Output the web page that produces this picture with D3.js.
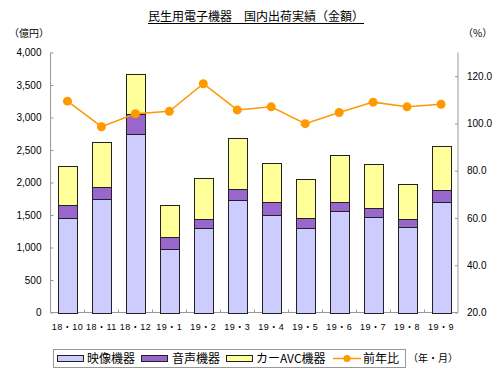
<!DOCTYPE html>
<html>
<head>
<meta charset="utf-8">
<script src="https://cdn.jsdelivr.net/npm/d3@7"></script>
<style>
  html, body { margin: 0; padding: 0; background: #fff; }
  svg text { font-family: "Liberation Sans", "Noto Sans CJK JP", sans-serif; fill: #000; }
  .jp { font-family: "Noto Sans CJK JP", sans-serif; }
</style>
</head>
<body>
<div id="chart"></div>
<script>
'use strict';

// data
var months = ["18・10", "18・11", "18・12", "19・1", "19・2", "19・3",
              "19・4", "19・5", "19・6", "19・7", "19・8", "19・9"];
var video = [1450, 1745, 2750, 970, 1300, 1725, 1500, 1305, 1565, 1465, 1320, 1700];
var audio = [200, 185, 305, 185, 140, 175, 200, 145, 135, 145, 115, 185];
var carAvc = [610, 695, 610, 500, 635, 780, 595, 610, 730, 675, 540, 670];
var yoy = [109.4, 98.6, 104.1, 105.1, 116.8, 105.7, 107.0, 99.9, 104.6, 109.0, 107.0, 108.1];
var leftTicks = [0, 500, 1000, 1500, 2000, 2500, 3000, 3500, 4000];
var rightTicks = [20, 40, 60, 80, 100, 120];

var seriesNames = ["映像機器", "音声機器", "カーAVC機器"];
var seriesColors = ["#ccccff", "#9966cc", "#ffff99"];
var lineName = "前年比";
var lineColor = "#ff9900";

var W = 503, H = 371;
var m = {left: 50.5, right: 45, top: 52.5, bottom: 58.5};

var svg = d3.select("#chart").append("svg")
  .attr("width", W).attr("height", H);

var x = d3.scaleBand().domain(months)
  .range([m.left, W - m.right]).paddingInner(0.44).paddingOuter(0.22);
var y = d3.scaleLinear().domain([0, 4000]).range([H - m.bottom, m.top]);
var y2 = d3.scaleLinear().domain([20, 130]).range([H - m.bottom, m.top]);

var rows = months.map(function(mo, i) {
  return {month: mo, v: video[i], a: audio[i], c: carAvc[i]};
});
var stack = d3.stack().keys(["v", "a", "c"])(rows);

// title
var title = svg.append("text").attr("class", "jp")
  .attr("x", 256).attr("y", 21)
  .attr("text-anchor", "middle")
  .style("font-size", "12px")
  .text("民生用電子機器　国内出荷実績（金額）");
var tb = title.node().getBBox();
svg.append("line")
  .attr("x1", tb.x).attr("x2", tb.x + tb.width)
  .attr("y1", 23.5).attr("y2", 23.5)
  .attr("stroke", "#000").attr("stroke-width", 1);

svg.append("text").attr("class", "jp")
  .attr("x", 9).attr("y", 37).style("font-size", "10px").text("（億円）");
svg.append("text").attr("class", "jp")
  .attr("x", 463).attr("y", 37).style("font-size", "10px").text("（%）");

// axes
var gridColor = "#999";
var fmt = d3.format(",");

var axL = svg.append("g").attr("transform", "translate(" + m.left + ",0)")
  .call(d3.axisLeft(y).tickValues(leftTicks).tickSize(-3).tickPadding(9).tickFormat(fmt));
var axR = svg.append("g").attr("transform", "translate(" + (W - m.right) + ",0)")
  .call(d3.axisRight(y2).tickValues(rightTicks).tickSize(-3).tickPadding(9).tickFormat(d3.format(".1f")));
[axL, axR].forEach(function(g) {
  g.select(".domain").attr("stroke", gridColor).attr("d", null);
  g.selectAll(".tick line").attr("stroke", gridColor);
  g.selectAll(".tick text").style("font-size", "10px").attr("fill", "#000");
});
axL.append("line").attr("x1", 0).attr("x2", 0)
  .attr("y1", y(4000)).attr("y2", y(0)).attr("stroke", gridColor);
axR.append("line").attr("x1", 0).attr("x2", 0)
  .attr("y1", y2(130)).attr("y2", y2(20)).attr("stroke", gridColor);
axR.selectAll(".tick text").attr("x", 9).style("text-anchor", "start");

// bottom axis
var bottom = svg.append("g");
bottom.append("line")
  .attr("x1", m.left).attr("x2", W - m.right)
  .attr("y1", y(0)).attr("y2", y(0)).attr("stroke", gridColor);
var step = x.step();
bottom.selectAll("line.tk").data(months.slice(1)).join("line").attr("class", "tk")
  .attr("x1", function(d) { return Math.round(x(d) - step * 0.22) + 0.5; })
  .attr("x2", function(d) { return Math.round(x(d) - step * 0.22) + 0.5; })
  .attr("y1", y(0)).attr("y2", y(0) - 3).attr("stroke", gridColor);
bottom.selectAll("text").data(months).join("text")
  .attr("x", function(d) { return x(d) + x.bandwidth() / 2; })
  .attr("y", y(0) + 17)
  .attr("text-anchor", "middle")
  .style("font-size", "9px")
  .style("letter-spacing", "0.5px")
  .text(function(d) { return d; });

// bars
svg.append("g").selectAll("g").data(stack).join("g")
  .attr("fill", function(d, i) { return seriesColors[i]; })
  .selectAll("rect").data(function(d) { return d; }).join("rect")
  .attr("x", function(d) { return Math.round(x(d.data.month)) + 0.5; })
  .attr("width", Math.round(x.bandwidth()))
  .attr("y", function(d) { return Math.round(y(d[1])) + 0.5; })
  .attr("height", function(d) { return Math.round(y(d[0])) - Math.round(y(d[1])); })
  .attr("stroke", "#222").attr("stroke-width", 1);

// year-on-year line
var line = d3.line()
  .x(function(d, i) { return x(months[i]) + x.bandwidth() / 2; })
  .y(function(d) { return y2(d); });
svg.append("path").datum(yoy)
  .attr("d", line).attr("fill", "none")
  .attr("stroke", lineColor).attr("stroke-width", 1.5);
svg.append("g").selectAll("circle").data(yoy).join("circle")
  .attr("cx", function(d, i) { return x(months[i]) + x.bandwidth() / 2; })
  .attr("cy", function(d) { return y2(d); })
  .attr("r", 4.5).attr("fill", lineColor);

// legend
var lg = svg.append("g");
lg.append("rect").attr("x", 53.5).attr("y", 349.5).attr("width", 352).attr("height", 18)
  .attr("fill", "#fff").attr("stroke", gridColor);
var swX = [57.5, 141.5, 226.5];
var txX = [87, 172, 256];
seriesNames.forEach(function(n, i) {
  lg.append("rect").attr("x", swX[i]).attr("y", 355.5).attr("width", 26).attr("height", 6)
    .attr("fill", seriesColors[i]).attr("stroke", "#222");
  lg.append("text").attr("class", "jp").attr("x", txX[i]).attr("y", 363)
    .style("font-size", "12px").text(n);
});
lg.append("line").attr("x1", 333).attr("x2", 361).attr("y1", 358.5).attr("y2", 358.5)
  .attr("stroke", lineColor).attr("stroke-width", 1.5);
lg.append("circle").attr("cx", 347).attr("cy", 358.5).attr("r", 3.5).attr("fill", lineColor);
lg.append("text").attr("class", "jp").attr("x", 363).attr("y", 363)
  .style("font-size", "12px").text(lineName);
svg.append("text").attr("class", "jp").attr("x", 408).attr("y", 362)
  .style("font-size", "10px").text("（年・月）");
</script>
</body>
</html>
